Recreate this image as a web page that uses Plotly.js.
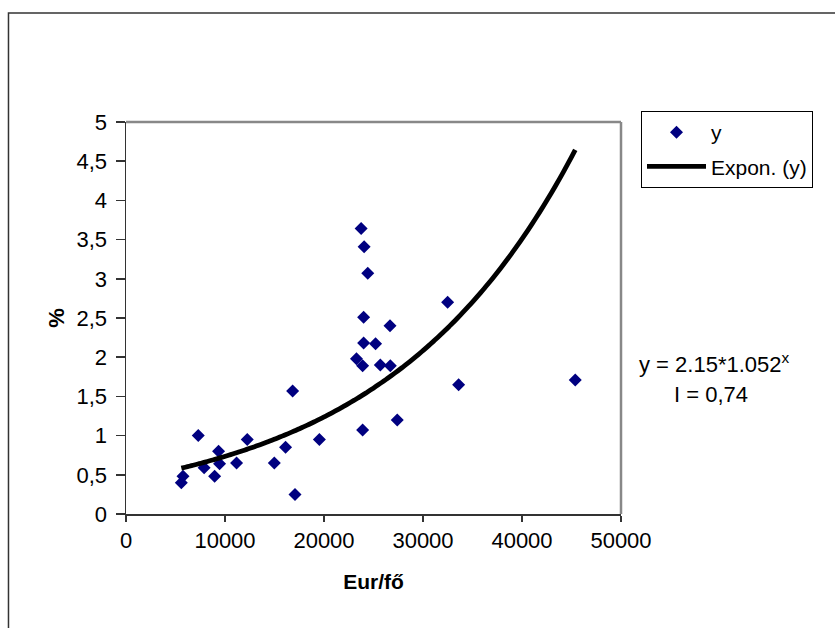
<!DOCTYPE html>
<html>
<head>
<meta charset="utf-8">
<script src="https://cdn.plot.ly/plotly-3.0.1.min.js"></script>
<style>html,body{margin:0;padding:0;background:#fff;}#chart{width:835px;height:628px;}</style>
</head>
<body>
<div id="chart"></div>
<script>
// Data
const xValues = [5590, 5760, 7300, 7890, 8950, 9350, 9450, 11170, 12250, 14980,
                 16120, 16830, 17070, 19530, 23280, 23750, 24050, 24420, 24000, 24000,
                 25210, 23900, 25690, 26700, 26670, 27400, 23900, 32490, 33600, 45380];
const yValues = [0.40, 0.48, 1.00, 0.59, 0.48, 0.80, 0.64, 0.65, 0.95, 0.65,
                 0.85, 1.57, 0.25, 0.95, 1.98, 3.64, 3.41, 3.07, 2.51, 2.18,
                 2.17, 1.89, 1.90, 1.89, 2.40, 1.20, 1.07, 2.70, 1.65, 1.71];
const xTickVals = [0, 10000, 20000, 30000, 40000, 50000];
const xTickLabels = ['0', '10000', '20000', '30000', '40000', '50000'];
const yTickVals = [0, 0.5, 1, 1.5, 2, 2.5, 3, 3.5, 4, 4.5, 5];
const yTickLabels = ['0', '0,5', '1', '1,5', '2', '2,5', '3', '3,5', '4', '4,5', '5'];
const seriesName = 'y';
const trendName = 'Expon. (y)';
const equationText = 'y = 2.15*1.052<sup>x</sup>';
const fitText = 'I = 0,74';

// Exponential trendline: least-squares fit of ln(y) on x (as the spreadsheet does)
const n = xValues.length;
const lny = yValues.map(v => Math.log(v));
const mx = xValues.reduce((a, b) => a + b, 0) / n;
const ml = lny.reduce((a, b) => a + b, 0) / n;
let sxy = 0, sxx = 0;
for (let i = 0; i < n; i++) { sxy += (xValues[i] - mx) * (lny[i] - ml); sxx += (xValues[i] - mx) ** 2; }
const b = sxy / sxx, lnA = ml - b * mx;
const xMin = Math.min(...xValues), xMax = Math.max(...xValues);
const trendX = [], trendY = [];
for (let k = 0; k <= 100; k++) {
  const x = xMin + (xMax - xMin) * k / 100;
  trendX.push(x); trendY.push(Math.exp(lnA + b * x));
}

const FONT = 'Liberation Sans, Arial, sans-serif';
const traces = [
  { x: xValues, y: yValues, type: 'scatter', mode: 'markers', name: seriesName, legendgroup: 'a',
    marker: { symbol: 'diamond', size: 10, color: '#000080', line: { width: 0 } } },
  { x: trendX, y: trendY, type: 'scatter', mode: 'lines', name: trendName, legendgroup: 'b',
    line: { color: '#000000', width: 4.8, shape: 'spline' } }
];

const layout = {
  width: 835, height: 628,
  margin: { l: 126, r: 214, t: 122, b: 114, pad: 0 },
  paper_bgcolor: '#ffffff', plot_bgcolor: '#ffffff',
  font: { family: FONT, size: 21, color: '#000' },
  showlegend: true,
  xaxis: {
    range: [0, 50000], tickmode: 'array', tickvals: xTickVals, ticktext: xTickLabels,
    ticks: 'outside', ticklen: 6, tickwidth: 1.5, tickcolor: '#333',
    showline: true, linecolor: '#333', linewidth: 1.5, showgrid: false, zeroline: false,
    tickfont: { family: FONT, size: 22, color: '#000' },
    title: { text: '<b>Eur/fő</b>', font: { family: FONT, size: 21, color: '#000' }, standoff: 22 }
  },
  yaxis: {
    range: [0, 5], tickmode: 'array', tickvals: yTickVals, ticktext: yTickLabels,
    ticks: 'outside', ticklen: 9, tickwidth: 1.5, tickcolor: '#333', ticklabelstandoff: 4,
    showline: true, linecolor: '#333', linewidth: 1.5, showgrid: false, zeroline: false,
    tickfont: { family: FONT, size: 22, color: '#000' },
    title: { text: '<b>%</b>', font: { family: FONT, size: 22, color: '#000' }, standoff: 6 }
  },
  legend: {
    x: 1.0404, y: 1.028, xanchor: 'left', yanchor: 'top',
    bordercolor: '#000', borderwidth: 1, bgcolor: '#fff',
    font: { family: FONT, size: 21, color: '#000' }, itemwidth: 59,
    traceorder: 'grouped', tracegroupgap: 4
  },
  annotations: [
    { xref: 'paper', yref: 'paper', x: 1.1879, y: 0.3852, xanchor: 'center', yanchor: 'middle',
      text: equationText, showarrow: false, font: { family: FONT, size: 22, color: '#000' } },
    { xref: 'paper', yref: 'paper', x: 1.1816, y: 0.3061, xanchor: 'center', yanchor: 'middle',
      text: fitText, showarrow: false, font: { family: FONT, size: 22, color: '#000' } }
  ],
  shapes: [
    { type: 'rect', xref: 'paper', yref: 'paper', x0: -0.2374, x1: 2, y0: -0.4, y1: 1.278,
      line: { color: '#333', width: 1.5 }, fillcolor: 'rgba(0,0,0,0)', layer: 'below' },
    { type: 'line', xref: 'paper', yref: 'paper', x0: 0, x1: 1, y0: 1, y1: 1,
      line: { color: '#888', width: 2.5 } },
    { type: 'line', xref: 'paper', yref: 'paper', x0: 1, x1: 1, y0: 0, y1: 1,
      line: { color: '#888', width: 2.5 } }
  ]
};

Plotly.newPlot('chart', traces, layout, { displayModeBar: false, staticPlot: true });
</script>
</body>
</html>
